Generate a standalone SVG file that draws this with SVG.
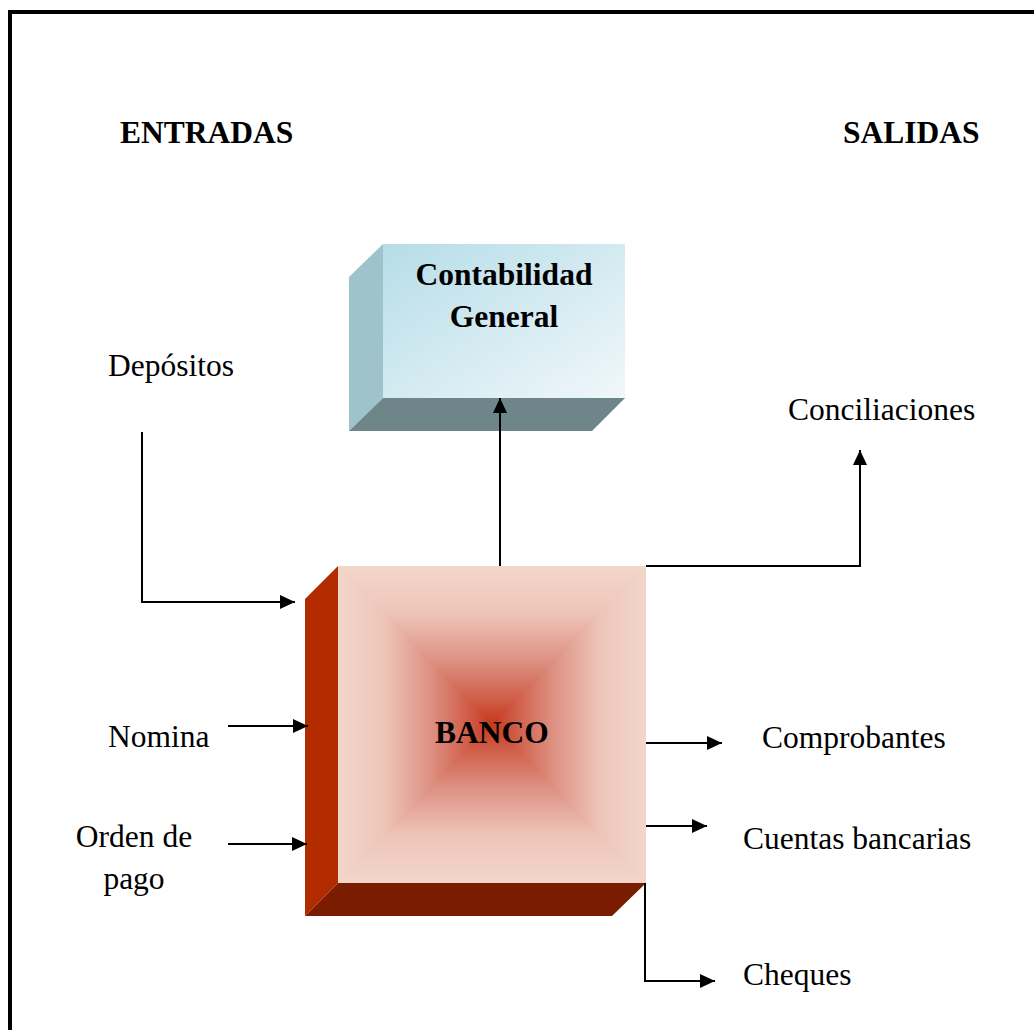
<svg xmlns="http://www.w3.org/2000/svg" width="1034" height="1030" viewBox="0 0 1034 1030">
<style>
.t{font-family:"Liberation Serif","Times New Roman",serif;font-size:31.5px;fill:#000}
.b{font-weight:bold}
.c{fill:none;stroke:#000;stroke-width:2}
</style>
<defs>
<marker id="ah" markerUnits="userSpaceOnUse" markerWidth="16" markerHeight="14" refX="15" refY="7" orient="auto">
<path d="M0,0 L15,7 L0,14 z" fill="#000"/>
</marker>
<linearGradient id="cg" x1="0" y1="0" x2="1" y2="1">
<stop offset="0" stop-color="#b6dde8"/>
<stop offset="1" stop-color="#f0f7fa"/>
</linearGradient>
<linearGradient id="gt" gradientUnits="userSpaceOnUse" x1="0" y1="566" x2="0" y2="724">
<stop offset="0" stop-color="#f3d6cb"/><stop offset="0.3" stop-color="#eec5b9"/><stop offset="0.6" stop-color="#dd9183"/><stop offset="0.85" stop-color="#d05c47"/><stop offset="1" stop-color="#c6381c"/>
</linearGradient>
<linearGradient id="gb" gradientUnits="userSpaceOnUse" x1="0" y1="883" x2="0" y2="724">
<stop offset="0" stop-color="#f3d6cb"/><stop offset="0.3" stop-color="#eec5b9"/><stop offset="0.6" stop-color="#dd9183"/><stop offset="0.85" stop-color="#d05c47"/><stop offset="1" stop-color="#c6381c"/>
</linearGradient>
<linearGradient id="gl" gradientUnits="userSpaceOnUse" x1="338" y1="0" x2="492" y2="0">
<stop offset="0" stop-color="#f3d6cb"/><stop offset="0.3" stop-color="#eec5b9"/><stop offset="0.6" stop-color="#dd9183"/><stop offset="0.85" stop-color="#d05c47"/><stop offset="1" stop-color="#c6381c"/>
</linearGradient>
<linearGradient id="gr" gradientUnits="userSpaceOnUse" x1="646" y1="0" x2="492" y2="0">
<stop offset="0" stop-color="#f3d6cb"/><stop offset="0.3" stop-color="#eec5b9"/><stop offset="0.6" stop-color="#dd9183"/><stop offset="0.85" stop-color="#d05c47"/><stop offset="1" stop-color="#c6381c"/>
</linearGradient>
<clipPath id="bf"><rect x="338" y="566" width="308" height="317"/></clipPath>
</defs>
<rect x="0" y="0" width="1034" height="1030" fill="#fff"/>
<rect x="10" y="12" width="1100" height="1100" fill="none" stroke="#000" stroke-width="4"/>

<text class="t b" x="120" y="143">ENTRADAS</text>
<text class="t b" x="843" y="143">SALIDAS</text>

<g id="contabilidad">
<polygon points="349,277 383,244 383,398 349,431" fill="#9fc3cb"/>
<polygon points="349,431 383,398 625,398 592,431" fill="#6e8589"/>
<rect x="383" y="244" width="242" height="154" fill="url(#cg)"/>
<text class="t b" x="504" y="285" text-anchor="middle">Contabilidad</text>
<text class="t b" x="504" y="327" text-anchor="middle">General</text>
</g>

<g id="banco">
<polygon points="305,599 338,566 338,883 305,916" fill="#b32c00"/>
<polygon points="305,916 338,883 646,883 612,916" fill="#7a1c00"/>
<g clip-path="url(#bf)">
<polygon points="338,566 646,566 492,724" fill="url(#gt)" stroke="url(#gt)" stroke-width="1.5"/>
<polygon points="338,883 646,883 492,724" fill="url(#gb)" stroke="url(#gb)" stroke-width="1.5"/>
<polygon points="338,566 338,883 492,724" fill="url(#gl)" stroke="url(#gl)" stroke-width="1.5"/>
<polygon points="646,566 646,883 492,724" fill="url(#gr)" stroke="url(#gr)" stroke-width="1.5"/>
</g>
<text class="t b" x="492" y="743" text-anchor="middle">BANCO</text>
</g>

<g id="labels">
<text class="t" x="108" y="376">Depósitos</text>
<text class="t" x="788" y="420">Conciliaciones</text>
<text class="t" x="108" y="747">Nomina</text>
<text class="t" x="134" y="847" text-anchor="middle">Orden de</text>
<text class="t" x="134" y="889" text-anchor="middle">pago</text>
<text class="t" x="762" y="748">Comprobantes</text>
<text class="t" x="743" y="849">Cuentas bancarias</text>
<text class="t" x="743" y="985">Cheques</text>
</g>

<g id="connectors">
<path class="c" d="M142,432 V602 H295" marker-end="url(#ah)"/>
<path class="c" d="M500,566 V398" marker-end="url(#ah)"/>
<path class="c" d="M646,566 H860 V450" marker-end="url(#ah)"/>
<path class="c" d="M228,726 H308" marker-end="url(#ah)"/>
<path class="c" d="M228,844 H307" marker-end="url(#ah)"/>
<path class="c" d="M646,743 H722" marker-end="url(#ah)"/>
<path class="c" d="M646,826 H707" marker-end="url(#ah)"/>
<path class="c" d="M645,883 V981 H715" marker-end="url(#ah)"/>
</g>
</svg>
